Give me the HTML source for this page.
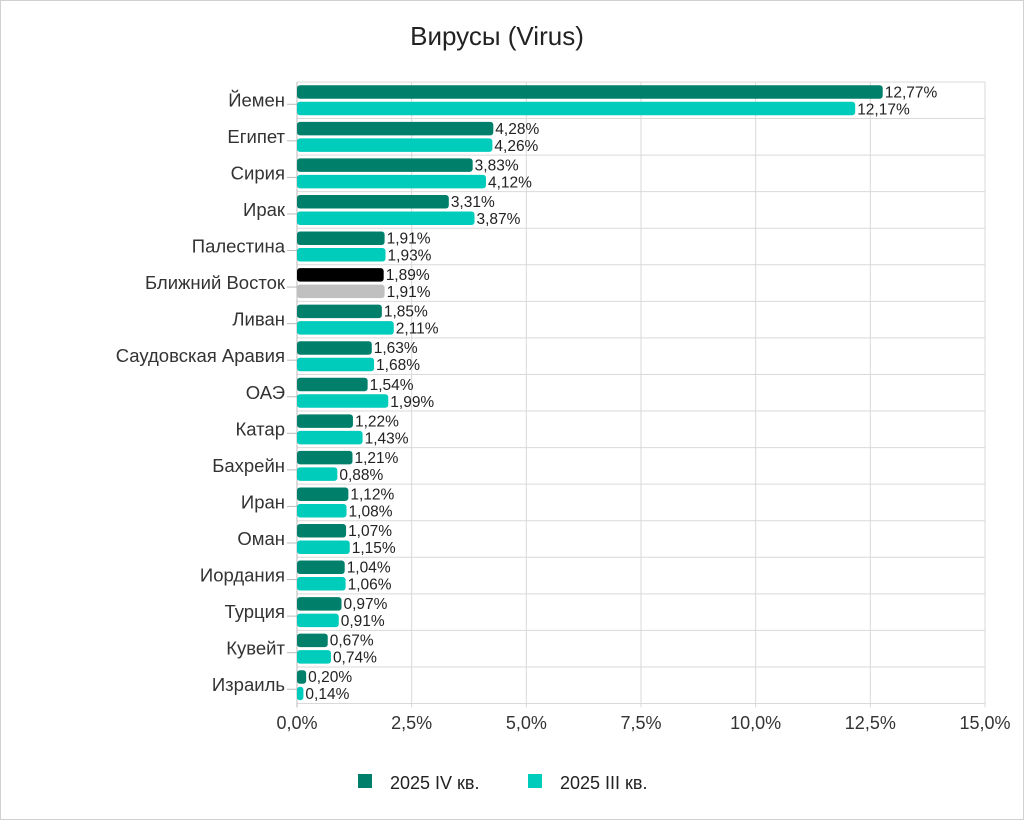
<!DOCTYPE html>
<html><head><meta charset="utf-8"><style>
body{margin:0;background:#fff;font-family:"Liberation Sans","DejaVu Sans",sans-serif}
#wrap{position:relative;width:1024px;height:820px;box-sizing:border-box;border:1px solid #d0d0d0}
</style></head><body>
<div id="wrap">
<svg id="chart" width="1022" height="818" viewBox="1 1 1022 818" xmlns="http://www.w3.org/2000/svg">
<text x="497" y="45" text-anchor="middle" font-size="26" fill="#222">Вирусы (Virus)</text>
<g id="grid"></g><g id="bars"></g><g id="labels"></g>
<g>
<rect x="358" y="774" width="14" height="14" fill="#00806b"/>
<text x="390" y="789" font-size="18" fill="#222">2025 IV кв.</text>
<rect x="528" y="774" width="14" height="14" fill="#00ccbc"/>
<text x="560" y="789" font-size="18" fill="#222">2025 III кв.</text>
</g>
</svg></div>
<script>
const categories=["Йемен","Египет","Сирия","Ирак","Палестина","Ближний Восток","Ливан","Саудовская Аравия","ОАЭ","Катар","Бахрейн","Иран","Оман","Иордания","Турция","Кувейт","Израиль"];
const q4=[12.77,4.28,3.83,3.31,1.91,1.89,1.85,1.63,1.54,1.22,1.21,1.12,1.07,1.04,0.97,0.67,0.20];
const q3=[12.17,4.26,4.12,3.87,1.93,1.91,2.11,1.68,1.99,1.43,0.88,1.08,1.15,1.06,0.91,0.74,0.14];
const ticks=[0,2.5,5,7.5,10,12.5,15];
const NS="http://www.w3.org/2000/svg";
const x0=297,x1=985,yTop=82,rowH=36.56,xmax=15;
const xs=v=>x0+(v/xmax)*(x1-x0);
const yc=i=>yTop+rowH*(i+0.5);
const fmt=v=>v.toFixed(2).replace('.',',')+'%';
function mk(tag,attrs,parent){const e=document.createElementNS(NS,tag);for(const k in attrs)e.setAttribute(k,attrs[k]);parent.appendChild(e);return e;}
const grid=document.getElementById('grid'),bars=document.getElementById('bars'),labels=document.getElementById('labels');
ticks.forEach((t,i)=>{
 const g=mk('line',{x1:xs(t),x2:xs(t),y1:yTop,y2:yTop+rowH*categories.length+4,stroke:'#d9d9d9','stroke-width':1},grid);
 
 
 const tx=mk('text',{x:xs(t),y:729,'text-anchor':'middle','font-size':18,fill:'#333'},labels);
 tx.textContent=t.toFixed(1).replace('.',',')+'%';
 
 
});
for(let i=0;i<=categories.length;i++){
 const l=mk('line',{x1:x0,x2:x1,y1:yTop+rowH*i,y2:yTop+rowH*i,stroke:'#d9d9d9','stroke-width':1},grid);
 
 
}
mk('line',{x1:x0,x2:x0,y1:yTop,y2:yTop+rowH*categories.length+4,stroke:'#bbb'},grid);
categories.forEach((c,i)=>{
 const y=yc(i);
 const tk=mk('line',{x1:x0-10,x2:x0,y1:y+4,y2:y+4,stroke:'#bbb'},grid);
 
 
 const t=mk('text',{x:285,y:y+6,'text-anchor':'end','font-size':18.5,fill:'#333'},labels);
 t.textContent=c;
 
 
 const mid=c==="Ближний Восток";
 const c4=mid?'#000':'#00806b', c3=mid?'#c0c0c0':'#00ccbc';
 const b1=mk('rect',{x:x0,y:y-15,width:xs(q4[i])-x0,height:13.5,rx:3,fill:c4},bars);
 
 
 const b2=mk('rect',{x:x0,y:y+1.5,width:xs(q3[i])-x0,height:13.5,rx:3,fill:c3},bars);
 
 
 const l1=mk('text',{x:xs(q4[i])+2,y:y-3,'font-size':15.5,fill:'#222'},labels);
 l1.textContent=fmt(q4[i]);
 
 
 const l2=mk('text',{x:xs(q3[i])+2,y:y+14,'font-size':15.5,fill:'#222'},labels);
 l2.textContent=fmt(q3[i]);
 
 
});
</script>
</body></html>
